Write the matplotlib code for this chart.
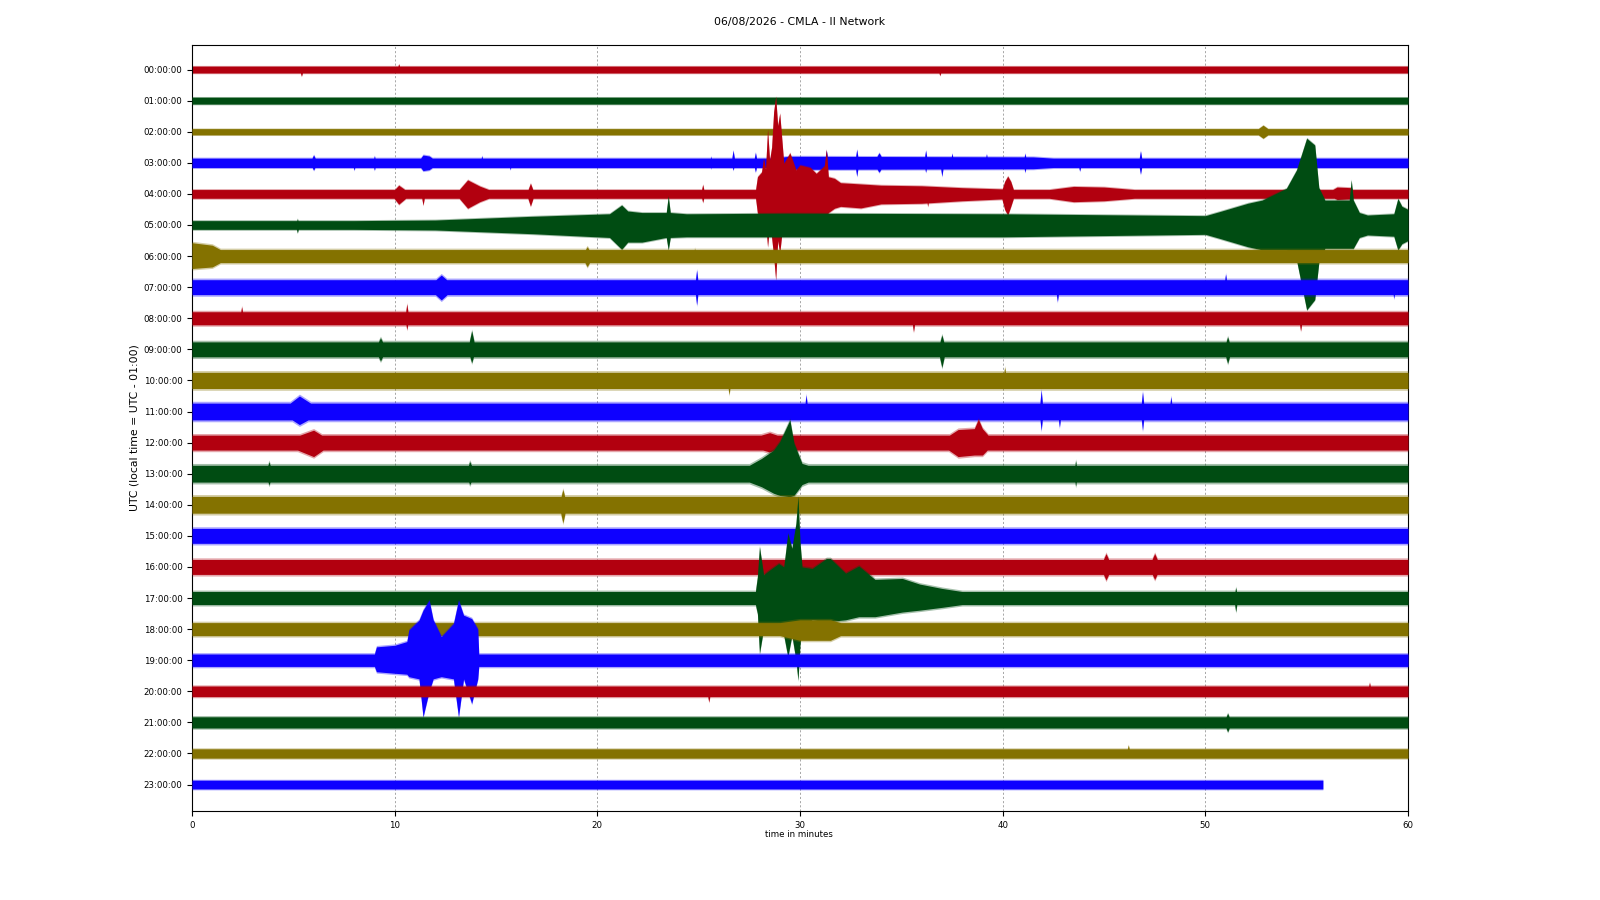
import numpy as np
import matplotlib
matplotlib.use("Agg")
import matplotlib.pyplot as plt

# ---------------- data ----------------
title = "06/08/2026 - CMLA - II Network"
hour_labels = ["%02d:00:00" % h for h in range(24)]
minute_ticks = [0, 10, 20, 30, 40, 50, 60]
trace_colors = ["#B2000F", "#004C12", "#847200", "#0E01FF"]

# quiet-noise half width of each hourly trace (in units of trace spacing)
base_amp = [0.11, 0.11, 0.10, 0.15, 0.14, 0.14, 0.21, 0.24, 0.21, 0.24, 0.26, 0.27,
            0.24, 0.27, 0.27, 0.24, 0.24, 0.21, 0.21, 0.20, 0.17, 0.18, 0.15, 0.14]
# minute at which each trace ends
trace_end = [60] * 23 + [55.8]

# envelope keypoints of events: (trace, minutes, upward extent, downward extent)
events = [
    (0, [5.3, 5.4, 5.5], [0, 0, 0], [0, 0.21, 0]),
    (0, [10.1, 10.2, 10.3], [0, 0.18, 0], [0, 0, 0]),
    (0, [36.8, 36.9, 37.0], [0, 0, 0], [0, 0.19, 0]),
    (2, [52.4, 52.85, 53.3], [0, 0.21, 0], [0, 0.21, 0]),
    (3, [5.8, 6.0, 6.2], [0, 0.25, 0], [0, 0.23, 0]),
    (3, [7.9, 8.0, 8.1], [0, 0, 0], [0, 0.23, 0]),
    (3, [8.9, 9.0, 9.1], [0, 0.22, 0], [0, 0.23, 0]),
    (3, [11.1, 11.4, 11.7, 12.2], [0, 0.25, 0.22, 0], [0, 0.25, 0.22, 0]),
    (3, [14.2, 14.3, 14.4], [0, 0.22, 0], [0, 0, 0]),
    (3, [15.6, 15.7, 15.8], [0, 0, 0], [0, 0.21, 0]),
    (3, [25.5, 25.6, 25.7], [0, 0.20, 0], [0, 0.18, 0]),
    (3, [26.6, 26.7, 26.8], [0, 0.40, 0], [0, 0.23, 0]),
    (3, [27.7, 27.8, 27.9], [0, 0.33, 0], [0, 0.29, 0]),
    (3, [28.5, 29.5, 41.5, 42.5], [0.15, 0.21, 0.19, 0.15], [0.15, 0.21, 0.19, 0.15]),
    (3, [31.2, 31.3, 31.4], [0, 0.40, 0], [0, 0.30, 0]),
    (3, [32.7, 32.8, 32.9], [0, 0.43, 0], [0, 0.43, 0]),
    (3, [33.6, 33.9, 34.2], [0, 0.32, 0], [0, 0.30, 0]),
    (3, [36.1, 36.2, 36.3], [0, 0.40, 0], [0, 0.30, 0]),
    (3, [36.9, 37.0, 37.1], [0, 0, 0], [0, 0.43, 0]),
    (3, [37.4, 37.5, 37.6], [0, 0.30, 0], [0, 0, 0]),
    (3, [39.1, 39.2, 39.3], [0, 0.28, 0], [0, 0, 0]),
    (3, [41.0, 41.1, 41.2], [0, 0.30, 0], [0, 0.30, 0]),
    (3, [43.7, 43.8, 43.9], [0, 0, 0], [0, 0.26, 0]),
    (3, [46.7, 46.8, 46.9], [0, 0.38, 0], [0, 0.36, 0]),
    (4, [9.8, 10.2, 10.8], [0, 0.28, 0], [0, 0.33, 0]),
    (4, [11.3, 11.4, 11.5], [0, 0, 0], [0, 0.36, 0]),
    (4, [13.0, 13.6, 14.2, 15.2], [0, 0.45, 0.25, 0], [0, 0.46, 0.25, 0]),
    (4, [16.5, 16.7, 16.9], [0, 0.34, 0], [0, 0.39, 0]),
    (4, [25.1, 25.2, 25.3], [0, 0.30, 0], [0, 0.27, 0]),
    (4, [27.8, 27.9, 28.1, 28.2, 28.3, 28.4, 28.5, 28.6, 28.7, 28.8, 28.9, 29.0, 29.2, 29.5,
         29.8, 30.0, 30.5, 30.8, 31.2, 31.3, 31.4, 31.7, 32.0, 33.0, 34.0, 36.0, 38.0, 40.0],
     [0.10, 0.55, 0.70, 1.14, 0.80, 2.07, 1.09, 1.50, 2.64, 3.13, 2.20, 2.59, 0.98, 1.32,
      0.77, 0.93, 0.85, 0.66, 0.90, 1.43, 0.55, 0.50, 0.36, 0.32, 0.28, 0.26, 0.20, 0.16],
     [0.10, 0.62, 0.65, 0.70, 0.90, 1.70, 1.00, 1.40, 2.00, 2.77, 1.50, 1.90, 0.70, 0.68,
      0.65, 0.66, 0.65, 0.70, 0.72, 0.73, 0.60, 0.46, 0.40, 0.45, 0.32, 0.30, 0.22, 0.16]),
    (4, [36.2, 36.3, 36.4], [0, 0, 0], [0, 0.40, 0]),
    (4, [39.9, 40.1, 40.25, 40.4, 40.6], [0, 0.40, 0.57, 0.40, 0], [0, 0.50, 0.68, 0.40, 0]),
    (4, [42.3, 43.5, 45.0, 46.5], [0.14, 0.24, 0.22, 0.14], [0.14, 0.25, 0.22, 0.14]),
    (4, [55.9, 56.5, 57.2, 57.4], [0, 0.22, 0.20, 0], [0, 0.18, 0.16, 0]),
    (5, [5.1, 5.2, 5.3], [0, 0.20, 0], [0, 0.25, 0]),
    (5, [8.0, 12.0, 16.8, 20.6, 21.2, 21.5, 22.2, 23.4, 23.5, 23.6, 24.4, 29.3, 40.0, 50.0,
         50.7, 52.1, 52.8, 54.0, 54.5, 55.0, 55.4, 55.6, 55.9, 57.1, 57.2, 57.3, 57.6, 58.0,
         59.3, 59.5, 59.7, 60.0],
     [0.14, 0.16, 0.28, 0.36, 0.64, 0.45, 0.40, 0.40, 0.93, 0.40, 0.36, 0.38, 0.36, 0.30,
      0.43, 0.70, 0.80, 1.18, 1.77, 2.79, 2.57, 1.20, 0.80, 0.80, 1.45, 0.80, 0.40, 0.32,
      0.36, 0.85, 0.60, 0.50],
     [0.14, 0.16, 0.28, 0.40, 0.78, 0.55, 0.55, 0.40, 0.80, 0.40, 0.38, 0.38, 0.38, 0.30,
      0.43, 0.70, 0.80, 0.80, 1.13, 2.73, 2.40, 1.20, 0.75, 0.75, 0.75, 0.75, 0.40, 0.32,
      0.36, 0.80, 0.60, 0.50]),
    (6, [0.0, 1.0, 2.0], [0.43, 0.35, 0], [0.40, 0.35, 0]),
    (6, [19.2, 19.5, 19.8], [0, 0.30, 0], [0, 0.34, 0]),
    (6, [24.7, 24.8, 24.9], [0, 0.25, 0], [0, 0, 0]),
    (7, [11.6, 12.3, 13.0], [0, 0.39, 0], [0, 0.41, 0]),
    (7, [24.8, 24.9, 25.0], [0, 0.55, 0], [0, 0.57, 0]),
    (7, [42.6, 42.7, 42.8], [0, 0, 0], [0, 0.46, 0]),
    (7, [50.9, 51.0, 51.1], [0, 0.42, 0], [0, 0, 0]),
    (7, [59.2, 59.3, 59.4], [0, 0, 0], [0, 0.35, 0]),
    (8, [2.35, 2.45, 2.55], [0, 0.37, 0], [0, 0, 0]),
    (8, [10.5, 10.6, 10.7], [0, 0.46, 0], [0, 0.36, 0]),
    (8, [35.5, 35.6, 35.7], [0, 0, 0], [0, 0.43, 0]),
    (8, [54.6, 54.7, 54.8], [0, 0, 0], [0, 0.40, 0]),
    (9, [9.0, 9.3, 9.6], [0, 0.37, 0], [0, 0.37, 0]),
    (9, [13.6, 13.8, 14.0], [0, 0.60, 0], [0, 0.43, 0]),
    (9, [36.8, 37.0, 37.2], [0, 0.46, 0], [0, 0.58, 0]),
    (9, [50.9, 51.1, 51.3], [0, 0.40, 0], [0, 0.45, 0]),
    (10, [26.4, 26.5, 26.6], [0, 0, 0], [0, 0.45, 0]),
    (10, [40.0, 40.1, 40.2], [0, 0.42, 0], [0, 0, 0]),
    (11, [4.3, 5.3, 6.5], [0, 0.50, 0], [0, 0.42, 0]),
    (11, [30.2, 30.3, 30.4], [0, 0.53, 0], [0, 0, 0]),
    (11, [41.8, 41.9, 42.0], [0, 0.69, 0], [0, 0.60, 0]),
    (11, [42.7, 42.8, 42.9], [0, 0, 0], [0, 0.50, 0]),
    (11, [46.8, 46.9, 47.0], [0, 0.63, 0], [0, 0.60, 0]),
    (11, [48.2, 48.3, 48.4], [0, 0.47, 0], [0, 0, 0]),
    (12, [4.3, 6.0, 7.0], [0, 0.40, 0], [0, 0.45, 0]),
    (12, [26.8, 28.5, 30.0], [0, 0.32, 0], [0, 0.30, 0]),
    (12, [36.8, 37.8, 38.6, 38.8, 39.0, 39.6], [0, 0.42, 0.45, 0.75, 0.45, 0],
     [0, 0.45, 0.40, 0.40, 0.40, 0]),
    (13, [3.6, 3.8, 4.0], [0, 0.38, 0], [0, 0.36, 0]),
    (13, [13.5, 13.7, 14.0], [0, 0.39, 0], [0, 0.35, 0]),
    (13, [27.5, 28.1, 28.7, 29.0, 29.5, 29.7, 30.1, 30.4],
     [0.27, 0.49, 0.76, 1.03, 1.73, 0.98, 0.33, 0.27],
     [0.27, 0.42, 0.63, 0.70, 0.74, 0.70, 0.35, 0.27]),
    (13, [43.5, 43.6, 43.7], [0, 0.42, 0], [0, 0.40, 0]),
    (14, [18.1, 18.3, 18.5], [0, 0.49, 0], [0, 0.58, 0]),
    (16, [44.8, 45.1, 45.4], [0, 0.43, 0], [0, 0.42, 0]),
    (16, [47.2, 47.5, 47.8], [0, 0.43, 0], [0, 0.40, 0]),
    (17, [27.8, 27.9, 28.0, 28.2, 28.5, 28.95, 29.2, 29.4, 29.6, 29.8, 29.9, 30.0, 30.1,
          30.6, 31.3, 31.5, 32.25, 32.9, 33.7, 35.05, 35.9, 37.0, 38.0],
     [0.21, 0.69, 1.65, 0.75, 0.90, 1.11, 1.00, 2.08, 1.60, 2.40, 3.26, 1.80, 1.00,
      0.95, 1.27, 1.27, 0.80, 1.03, 0.60, 0.63, 0.45, 0.31, 0.21],
     [0.21, 0.50, 1.78, 1.00, 1.00, 0.80, 1.20, 1.89, 1.20, 2.00, 2.64, 1.50, 0.90,
      0.70, 0.76, 0.75, 0.70, 0.60, 0.60, 0.45, 0.39, 0.30, 0.21]),
    (17, [51.4, 51.5, 51.6], [0, 0.34, 0], [0, 0.44, 0]),
    (18, [29.0, 30.0, 31.5, 32.0], [0.21, 0.30, 0.30, 0.21], [0.21, 0.36, 0.36, 0.21]),
    (19, [9.0, 9.1, 10.0, 10.6, 10.7, 11.2, 11.4, 11.7, 11.9, 12.3, 12.9, 13.15, 13.4,
          13.8, 14.1, 14.15],
     [0.20, 0.43, 0.48, 0.60, 0.97, 1.29, 1.61, 1.93, 1.30, 0.76, 1.18, 1.93, 1.45,
      1.34, 1.00, 0.20],
     [0.20, 0.37, 0.42, 0.45, 0.53, 0.60, 1.82, 1.00, 0.60, 0.53, 0.60, 1.82, 0.60,
      1.39, 0.60, 0.20]),
    (20, [25.4, 25.5, 25.6], [0, 0, 0], [0, 0.34, 0]),
    (20, [58.0, 58.1, 58.2], [0, 0.28, 0], [0, 0, 0]),
    (21, [50.9, 51.1, 51.3], [0, 0.29, 0], [0, 0.30, 0]),
    (22, [46.1, 46.2, 46.3], [0, 0.27, 0], [0, 0, 0]),
]

# ---------------- figure ----------------
fig = plt.figure(figsize=(16, 9), dpi=100)
ax = fig.add_axes([0.12, 0.0989, 0.76, 0.8511])

n_traces = len(hour_labels)
for i in range(n_traces):
    end = trace_end[i]
    t = np.linspace(0, end, int(end * 100) + 1)
    up = np.full_like(t, base_amp[i])
    down = np.full_like(t, base_amp[i])
    for tr, et, eu, ed in events:
        if tr != i:
            continue
        up = np.maximum(up, np.interp(t, et, eu, left=0, right=0))
        down = np.maximum(down, np.interp(t, et, ed, left=0, right=0))
    col = trace_colors[i % 4]
    fringe = 0.22 * base_amp[i]
    # outer, spiky fringe of the noise band
    ax.fill_between(t, i - up - fringe, i + down + fringe, color=col, alpha=0.35,
                    lw=0, zorder=2 + i)
    # solid body of the trace
    ax.fill_between(t, i - up, i + down, color=col, lw=0, zorder=2 + i)

ax.set_xlim(0, 60)
ax.set_ylim(n_traces - 1 + 0.85, -0.79)
ax.set_yticks(range(n_traces))
ax.set_yticklabels(hour_labels, fontsize=6.2)
ax.set_xticks(minute_ticks)
ax.set_xticklabels([str(m) for m in minute_ticks], fontsize=6.2)
ax.grid(axis="x", linestyle=(0, (2.5, 2.5)), color="#999999", linewidth=0.6, zorder=1)
ax.set_axisbelow(True)

fig.text(0.4995, 0.976, title, ha="center", va="center", fontsize=7.8)
fig.text(0.4995, 0.0733, "time in minutes", ha="center", va="center", fontsize=6.2)
fig.text(0.0838, 0.5244, "UTC (local time = UTC - 01:00)", ha="center", va="center",
         rotation=90, fontsize=7.8)

fig.savefig("out.png", dpi=100)
